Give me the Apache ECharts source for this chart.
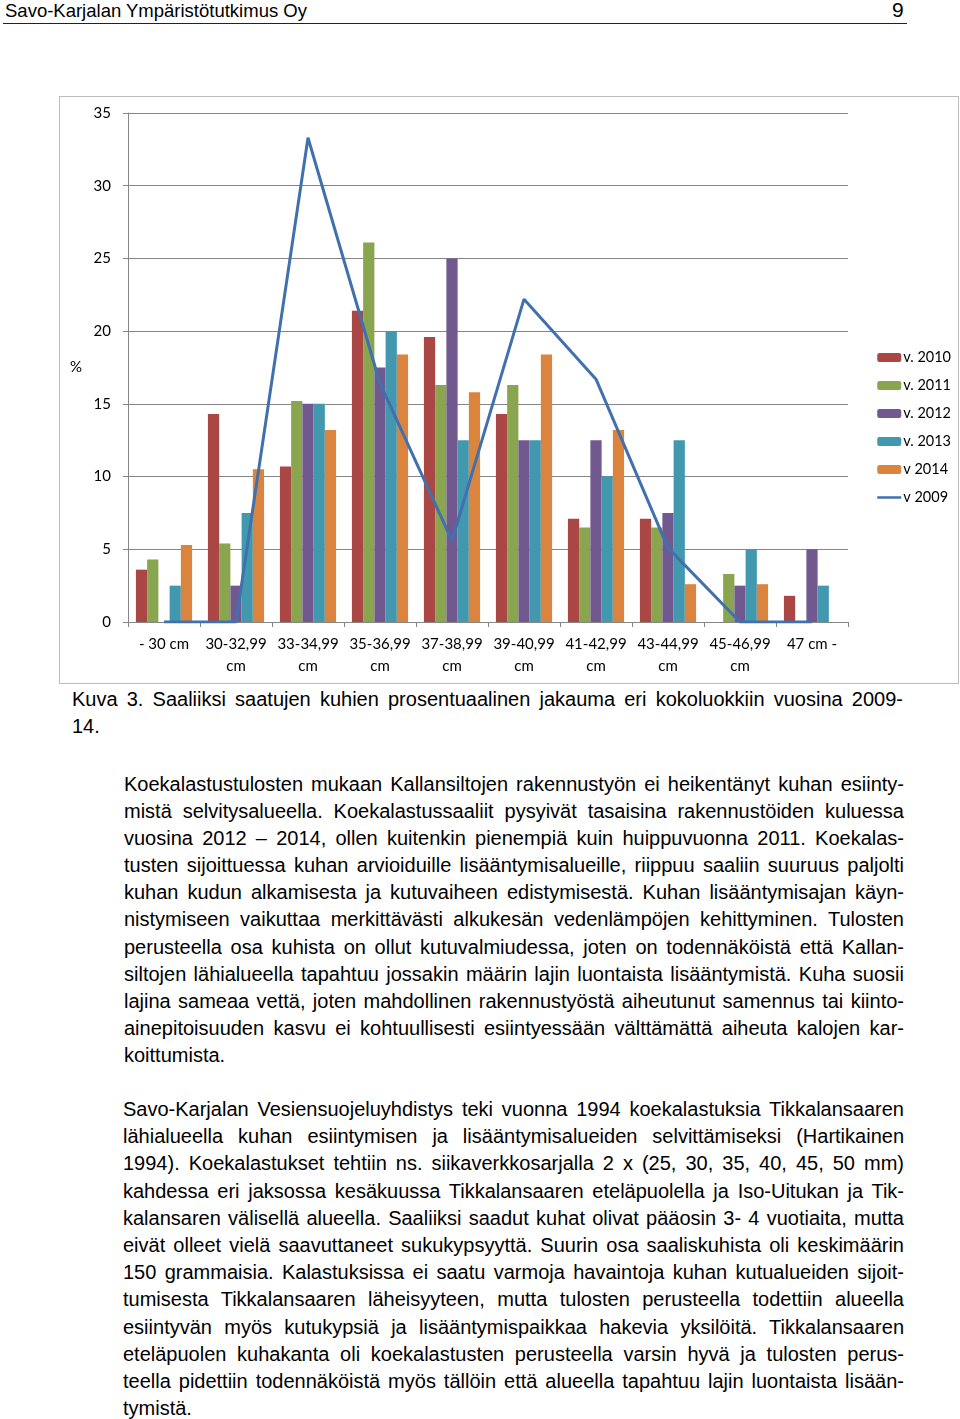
<!DOCTYPE html>
<html>
<head>
<meta charset="utf-8">
<title>Kuva 3</title>
<script src="https://cdn.jsdelivr.net/npm/echarts@6/dist/echarts.min.js"></script>
<style>
  html, body { margin: 0; padding: 0; background: #fff; }
  body { width: 960px; height: 1419px; position: relative; overflow: hidden;
         font-family: "Liberation Sans", Arial, sans-serif; color: #000; }
  .abs { position: absolute; }
  #head { left: 5px; top: 0; font-size: 18.5px; line-height: 21px; }
  #pageno { left: 892px; top: -1px; font-size: 21px; line-height: 22px; }
  #rule { left: 3px; top: 23px; width: 904px; height: 1px; background: #222; }
  #chart { left: 59px; top: 96px; width: 900px; height: 588px;
           border: 1px solid #bcbcbc; box-sizing: border-box; }
  .txt { font-size: 20px; }
  .txt div { text-align: justify; text-align-last: justify; white-space: nowrap; }
  .txt div.last { text-align-last: left; }
  #caption { left: 72px; top: 686px; width: 831px; line-height: 27px; }
  #p1 { left: 124px; top: 771px; width: 780px; line-height: 27.1px; }
  #p2 { left: 123px; top: 1096px; width: 781px; line-height: 27.2px; }
</style>
</head>
<body>
<div id="head" class="abs">Savo-Karjalan Ympäristötutkimus Oy</div>
<div id="pageno" class="abs">9</div>
<div id="rule" class="abs"></div>
<div id="chart" class="abs"></div>

<div id="caption" class="abs txt">
  <div>Kuva 3. Saaliiksi saatujen kuhien prosentuaalinen jakauma eri kokoluokkiin vuosina 2009-</div>
  <div class="last">14.</div>
</div>

<div id="p1" class="abs txt">
  <div>Koekalastustulosten mukaan Kallansiltojen rakennustyön ei heikentänyt kuhan esiinty-</div>
  <div>mistä selvitysalueella. Koekalastussaaliit pysyivät tasaisina rakennustöiden kuluessa</div>
  <div>vuosina 2012 – 2014, ollen kuitenkin pienempiä kuin huippuvuonna 2011. Koekalas-</div>
  <div>tusten sijoittuessa kuhan arvioiduille lisääntymisalueille, riippuu saaliin suuruus paljolti</div>
  <div>kuhan kudun alkamisesta ja kutuvaiheen edistymisestä. Kuhan lisääntymisajan käyn-</div>
  <div>nistymiseen vaikuttaa merkittävästi alkukesän vedenlämpöjen kehittyminen. Tulosten</div>
  <div>perusteella osa kuhista on ollut kutuvalmiudessa, joten on todennäköistä että Kallan-</div>
  <div>siltojen lähialueella tapahtuu jossakin määrin lajin luontaista lisääntymistä. Kuha suosii</div>
  <div>lajina sameaa vettä, joten mahdollinen rakennustyöstä aiheutunut samennus tai kiinto-</div>
  <div>ainepitoisuuden kasvu ei kohtuullisesti esiintyessään välttämättä aiheuta kalojen kar-</div>
  <div class="last">koittumista.</div>
</div>

<div id="p2" class="abs txt">
  <div>Savo-Karjalan Vesiensuojeluyhdistys teki vuonna 1994 koekalastuksia Tikkalansaaren</div>
  <div>lähialueella kuhan esiintymisen ja lisääntymisalueiden selvittämiseksi (Hartikainen</div>
  <div>1994). Koekalastukset tehtiin ns. siikaverkkosarjalla 2 x (25, 30, 35, 40, 45, 50 mm)</div>
  <div>kahdessa eri jaksossa kesäkuussa Tikkalansaaren eteläpuolella ja Iso-Uitukan ja Tik-</div>
  <div>kalansaren välisellä alueella. Saaliiksi saadut kuhat olivat pääosin 3- 4 vuotiaita, mutta</div>
  <div>eivät olleet vielä saavuttaneet sukukypsyyttä. Suurin osa saaliskuhista oli keskimäärin</div>
  <div>150 grammaisia. Kalastuksissa ei saatu varmoja havaintoja kuhan kutualueiden sijoit-</div>
  <div>tumisesta Tikkalansaaren läheisyyteen, mutta tulosten perusteella todettiin alueella</div>
  <div>esiintyvän myös kutukypsiä ja lisääntymispaikkaa hakevia yksilöitä. Tikkalansaaren</div>
  <div>eteläpuolen kuhakanta oli koekalastusten perusteella varsin hyvä ja tulosten perus-</div>
  <div>teella pidettiin todennäköistä myös tällöin että alueella tapahtuu lajin luontaista lisään-</div>
  <div class="last">tymistä.</div>
</div>

<script>
// kokoluokat
var categories = ['- 30 cm', '30-32,99\ncm', '33-34,99\ncm', '35-36,99\ncm', '37-38,99\ncm',
                  '39-40,99\ncm', '41-42,99\ncm', '43-44,99\ncm', '45-46,99\ncm', '47 cm -'];

// osuudet (%) vuosittain
var v2010 = [3.6, 14.3, 10.7, 21.4, 19.6, 14.3, 7.1, 7.1, 0, 1.8];
var v2011 = [4.3, 5.4, 15.2, 26.1, 16.3, 16.3, 6.5, 6.5, 3.3, 0];
var v2012 = [0, 2.5, 15.0, 17.5, 25.0, 12.5, 12.5, 7.5, 2.5, 5.0];
var v2013 = [2.5, 7.5, 15.0, 20.0, 12.5, 12.5, 10.0, 12.5, 5.0, 2.5];
var v2014 = [5.3, 10.5, 13.2, 18.4, 15.8, 18.4, 13.2, 2.6, 2.6, 0];
var v2009 = [0, 0, 33.3, 16.4, 5.6, 22.2, 16.7, 5.1, 0, 0];

var yTicks = { min: 0, max: 35, interval: 5 };

var barNames = ['v. 2010', 'v. 2011', 'v. 2012', 'v. 2013', 'v 2014'];
var barData = [v2010, v2011, v2012, v2013, v2014];
var barColors = ['#AA4643', '#89A54E', '#71588F', '#4198AF', '#DB843D'];
var lineColor = '#4170AE';

var chartFont = 'Lato, "Open Sans", sans-serif';
var axisGray = '#868686';

function buildSeries() {
	var list = [];
	for (var i = 0; i < barNames.length; i++) {
		list.push({
			name: barNames[i],
			type: 'bar',
			data: barData[i],
			barGap: '0%',
			barCategoryGap: '22%',
			itemStyle: { color: barColors[i] },
			silent: true
		});
	}
	list.push({
		name: 'v 2009',
		type: 'line',
		data: v2009,
		symbol: 'none',
		z: 5,
		lineStyle: { color: lineColor, width: 3 },
		itemStyle: { color: lineColor },
		silent: true
	});
	return list;
}

// legendan rivit, viivalle ei pallosymbolia
function legendItems() {
	var items = [];
	for (var i = 0; i < barNames.length; i++) items.push({ name: barNames[i] });
	items.push({
		name: 'v 2009',
		itemStyle: { color: 'rgba(0,0,0,0)', borderColor: 'rgba(0,0,0,0)', borderWidth: 0 },
		lineStyle: { color: lineColor, width: 2.5 }
	});
	return items;
}

var chart = echarts.init(document.getElementById('chart'), null, { renderer: 'canvas' });
chart.setOption({
	animation: false,
	textStyle: { fontFamily: chartFont },
	grid: { left: 68, top: 16, right: 110, bottom: 61 },
	legend: {
		orient: 'vertical',
		left: 811,
		top: 248,
		itemWidth: 24,
		itemHeight: 9,
		itemGap: 13,
		textStyle: { fontSize: 14.5, color: '#000', fontFamily: chartFont, padding: [0, 0, 0, -3], lineHeight: 15 },
		data: legendItems()
	},
	xAxis: {
		type: 'category',
		data: categories,
		axisLine: { lineStyle: { color: axisGray, width: 1 } },
		axisTick: { show: true, length: 5, lineStyle: { color: axisGray } },
		axisLabel: { color: '#000', fontSize: 15, lineHeight: 22, margin: 11, interval: 0, fontFamily: chartFont }
	},
	yAxis: {
		type: 'value',
		min: yTicks.min,
		max: yTicks.max,
		interval: yTicks.interval,
		name: '%',
		nameLocation: 'middle',
		nameRotate: 0,
		nameGap: 46,
		nameTextStyle: { color: '#000', fontSize: 15, fontFamily: chartFont },
		axisLine: { show: true, lineStyle: { color: axisGray, width: 1 } },
		axisTick: { show: true, length: 5, lineStyle: { color: axisGray } },
		axisLabel: { color: '#000', fontSize: 15, margin: 17, fontFamily: chartFont },
		splitLine: { lineStyle: { color: axisGray, width: 1 } }
	},
	series: buildSeries()
});
</script>
</body>
</html>
